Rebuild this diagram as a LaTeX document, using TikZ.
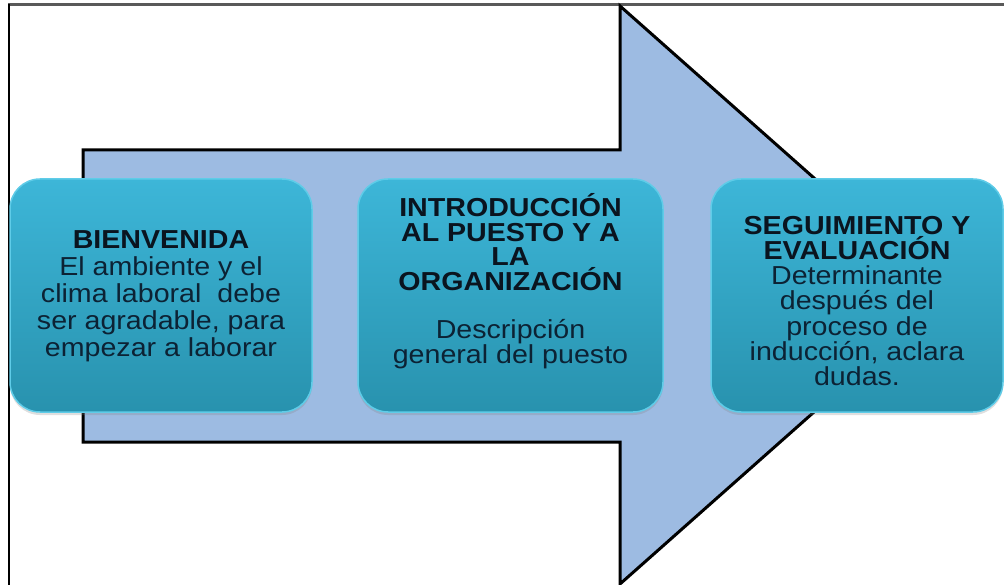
\documentclass[tikz,border=0pt]{standalone}
\usepackage{fontspec}
\setmainfont[FakeStretch=1.1]{Liberation Sans}
\usetikzlibrary{shadows}

\definecolor{arrowfill}{HTML}{9DBBE2}
\definecolor{boxtop}{HTML}{3DB6D8}
\definecolor{boxbot}{HTML}{2892AE}
\definecolor{boxrim}{HTML}{5FCCE8}
\definecolor{headtext}{HTML}{0A141F}
\definecolor{bodytext}{HTML}{0C2234}

\tikzset{
  stagebox/.style={rounded corners=30pt, top color=boxtop, bottom color=boxbot,
    draw=boxrim, line width=1.5pt, minimum height=233pt,
    drop shadow={opacity=0.25, shadow xshift=0pt, shadow yshift=-3pt}},
  stagetext/.style={align=center, font=\fontsize{26}{27}\selectfont,
    text=bodytext, inner sep=0pt}
}

\begin{document}
\begin{tikzpicture}[x=1pt, y=-1pt]
    \useasboundingbox (0,0) rectangle (1004,585);
    \draw[gray!70!black, line width=3pt] (8,5) -- (1004,5);
    \draw[line width=2.5pt] (9,4) -- (9,585);

    % big arrow behind the boxes
    \draw[fill=arrowfill, line width=3pt] (83,150) -- (620,150) -- (620,6) -- (946,295)
      -- (620,584) -- (620,442) -- (83,442) -- cycle;

    \node[stagebox, minimum width=302pt] (bienvenida) at (161,295.5) {};
    \node[stagebox, minimum width=305pt] (introduccion) at (510.5,295.5) {};
    \node[stagebox, minimum width=292pt] (seguimiento) at (857,295.5) {};

    \node[stagetext] (bienvenidatxt) at (161,296) {\textbf{\color{headtext}BIENVENIDA}\\
      El ambiente y el\\clima laboral\ \ debe\\ser agradable, para\\empezar a laborar};
    \node[stagetext, font=\fontsize{26}{24.5}\selectfont] (introtxt) at (510.5,281)
      {\textbf{\color{headtext}INTRODUCCIÓN}\\
      \textbf{\color{headtext}AL PUESTO Y A}\\\textbf{\color{headtext}LA}\\
      \textbf{\color{headtext}ORGANIZACIÓN}\\[24pt]Descripción\\general del puesto};
    \node[stagetext, font=\fontsize{26}{25.3}\selectfont] (seguimientotxt) at (857,301)
      {\textbf{\color{headtext}SEGUIMIENTO Y}\\
      \textbf{\color{headtext}EVALUACIÓN}\\Determinante\\después del\\proceso de\\
      inducción, aclara\\dudas.};
\end{tikzpicture}
\end{document}
